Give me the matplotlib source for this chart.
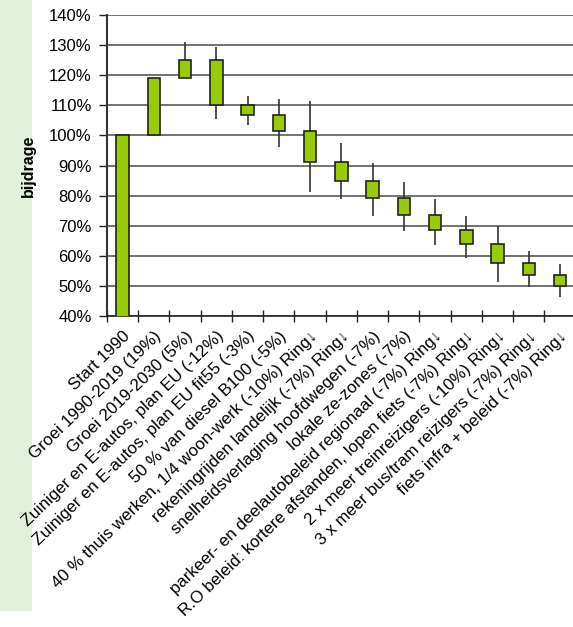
import numpy as np
import matplotlib.pyplot as plt
from matplotlib.patches import Rectangle

plt.rcParams['font.family'] = ['Liberation Sans', 'DejaVu Sans']

# categories and values (percent of 1990 level)
labels = ['Start 1990', 'Groei 1990-2019 (19%)', 'Groei 2019-2030 (5%)',
          'Zuiniger en E-autos, plan EU (-12%)',
          'Zuiniger en E-autos, plan EU fit55 (-3%)',
          '50 % van diesel B100 (-5%)',
          '40 % thuis werken, 1/4 woon-werk (-10%) Ring\u2193',
          'rekeningrijden landelijk (-7%) Ring\u2193',
          'snelheidsverlaging hoofdwegen (-7%)',
          'lokale ze-zones (-7%)',
          'parkeer- en deelautobeleid regionaal (-7%) Ring\u2193',
          'R.O beleid: kortere afstanden, lopen fiets (-7%) Ring\u2193',
          '2 x meer treinreizigers (-10%) Ring\u2193',
          '3 x meer bus/tram reizigers (-7%) Ring\u2193',
          'fiets infra + beleid (-7%) Ring\u2193']
box_open = [0, 100, 119, 125, 110, 106.8, 101.4, 91.3, 85.0, 79.1, 73.6, 68.6, 63.9, 57.6, 53.7]
box_close = [100, 119, 125, 110, 106.8, 101.4, 91.3, 85.0, 79.1, 73.6, 68.6, 63.9, 57.6, 53.7, 50.0]
whisk_hi = [np.nan, np.nan, 130.9, 129.5, 113.2, 112.0, 111.4, 97.5, 90.8, 84.5, 78.8, 73.2, 70.0, 61.6, 57.4]
whisk_lo = [np.nan, np.nan, 119.0, 105.4, 103.5, 96.0, 81.1, 78.8, 73.3, 68.2, 63.6, 59.2, 51.4, 49.7, 46.4]

fig = plt.figure(figsize=(5.73, 6.27), dpi=100)
# light green panel on the left
fig.patches.append(Rectangle((0, 0.0255), 0.0558, 0.9745, transform=fig.transFigure,
                             facecolor='#E2EFDA', edgecolor='none', zorder=-5))

ax = fig.add_axes([0.1867, 0.496, 0.818, 0.48])
x = np.arange(len(labels)) + 0.5

# whiskers
ax.vlines(x, whisk_lo, whisk_hi, color='#333333', linewidth=1.2, zorder=2)
# boxes
lo = np.minimum(box_open, box_close)
hi = np.maximum(box_open, box_close)
ax.bar(x, hi - lo, bottom=lo, width=0.4, color='#99CC00', edgecolor='#222222',
       linewidth=1.2, zorder=3)

ax.set_xlim(0, len(labels))
ax.set_ylim(40, 140)
ax.set_yticks(np.arange(40, 141, 10))
ax.set_yticklabels([f'{v}%' for v in range(40, 141, 10)], fontsize=12)
ax.yaxis.grid(True, color='#5a5a5a', linewidth=1.2)
ax.set_axisbelow(True)

# ticks between the categories, labels centred under the boxes
ax.set_xticks(np.arange(0, len(labels) + 1))
ax.set_xticklabels([])
ax.set_xticks(x, minor=True)
ax.set_xticklabels(labels, minor=True, rotation=44, ha='right', rotation_mode='anchor',
                   fontsize=12.2)
ax.tick_params(axis='x', which='major', direction='inout', length=9, width=1, color='#222222')
ax.tick_params(axis='x', which='minor', length=0, pad=9)
ax.tick_params(axis='y', direction='out', length=6, width=1, color='#222222', pad=5)

for s in ['top', 'right']:
    ax.spines[s].set_visible(False)
ax.spines['left'].set_color('#333333')
ax.spines['left'].set_linewidth(1.5)
ax.spines['bottom'].set_color('#222222')
ax.spines['bottom'].set_linewidth(1.2)

ax.set_ylabel('bijdrage', fontsize=11.5, fontweight='bold')
ax.yaxis.set_label_coords(-0.152, 0.5)

fig.savefig('out.png', dpi=100)
